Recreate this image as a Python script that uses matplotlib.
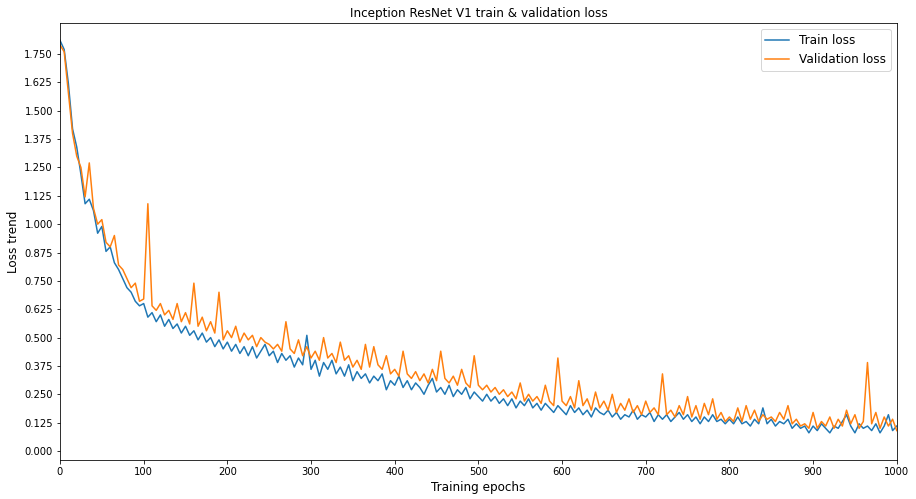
import numpy as np
import matplotlib
matplotlib.use("Agg")
import matplotlib.pyplot as plt

# loss values, one every 5 epochs
epochs = np.arange(0, 1001, 5)

train_loss = [
    1.81, 1.77, 1.62, 1.42, 1.34, 1.22, 1.09, 1.11, 1.06, 0.96,
    0.99, 0.88, 0.90, 0.83, 0.80, 0.76, 0.72, 0.70, 0.66, 0.64,
    0.65, 0.59, 0.61, 0.57, 0.60, 0.55, 0.58, 0.54, 0.56, 0.52,
    0.55, 0.51, 0.53, 0.49, 0.52, 0.48, 0.50, 0.46, 0.49, 0.45,
    0.48, 0.44, 0.47, 0.43, 0.46, 0.42, 0.46, 0.41, 0.44, 0.47,
    0.42, 0.44, 0.39, 0.43, 0.40, 0.42, 0.37, 0.41, 0.38, 0.51,
    0.36, 0.40, 0.33, 0.39, 0.36, 0.40, 0.34, 0.37, 0.33, 0.38,
    0.31, 0.35, 0.32, 0.34, 0.30, 0.33, 0.31, 0.34, 0.27, 0.31,
    0.29, 0.33, 0.28, 0.31, 0.27, 0.30, 0.28, 0.25, 0.29, 0.32,
    0.26, 0.28, 0.25, 0.29, 0.24, 0.27, 0.25, 0.28, 0.23, 0.26,
    0.24, 0.22, 0.25, 0.22, 0.24, 0.21, 0.23, 0.20, 0.23, 0.19,
    0.22, 0.20, 0.23, 0.19, 0.21, 0.18, 0.21, 0.19, 0.17, 0.20,
    0.18, 0.16, 0.20, 0.17, 0.19, 0.16, 0.18, 0.15, 0.19, 0.17,
    0.16, 0.18, 0.15, 0.17, 0.14, 0.16, 0.15, 0.18, 0.14, 0.16,
    0.15, 0.17, 0.13, 0.16, 0.14, 0.16, 0.13, 0.15, 0.17, 0.14,
    0.16, 0.13, 0.15, 0.12, 0.15, 0.13, 0.16, 0.13, 0.14, 0.12,
    0.14, 0.12, 0.15, 0.12, 0.13, 0.11, 0.14, 0.12, 0.19, 0.12,
    0.14, 0.11, 0.13, 0.12, 0.14, 0.10, 0.12, 0.10, 0.11, 0.08,
    0.11, 0.09, 0.12, 0.10, 0.08, 0.11, 0.10, 0.13, 0.16, 0.11,
    0.08, 0.12, 0.10, 0.11, 0.09, 0.12, 0.08, 0.11, 0.16, 0.09,
    0.11,
]

val_loss = [
    1.79, 1.76, 1.58, 1.40, 1.30, 1.25, 1.12, 1.27, 1.07, 1.00,
    1.02, 0.92, 0.90, 0.95, 0.82, 0.80, 0.76, 0.72, 0.74, 0.66,
    0.67, 1.09, 0.64, 0.62, 0.65, 0.60, 0.62, 0.58, 0.65, 0.57,
    0.61, 0.56, 0.74, 0.55, 0.59, 0.53, 0.57, 0.52, 0.70, 0.49,
    0.53, 0.50, 0.55, 0.48, 0.52, 0.49, 0.51, 0.46, 0.50, 0.48,
    0.47, 0.45, 0.47, 0.44, 0.57, 0.45, 0.43, 0.49, 0.42, 0.46,
    0.41, 0.44, 0.40, 0.50, 0.41, 0.43, 0.39, 0.48, 0.40, 0.42,
    0.37, 0.40, 0.36, 0.47, 0.37, 0.46, 0.38, 0.36, 0.42, 0.34,
    0.36, 0.33, 0.44, 0.34, 0.32, 0.35, 0.31, 0.34, 0.30, 0.36,
    0.31, 0.44, 0.32, 0.30, 0.33, 0.29, 0.36, 0.30, 0.28, 0.42,
    0.29, 0.27, 0.29, 0.26, 0.28, 0.25, 0.27, 0.24, 0.26, 0.23,
    0.30, 0.22, 0.25, 0.22, 0.24, 0.21, 0.29, 0.22, 0.20, 0.41,
    0.22, 0.20, 0.24, 0.19, 0.31, 0.20, 0.23, 0.18, 0.26, 0.19,
    0.22, 0.18, 0.25, 0.17, 0.21, 0.18, 0.23, 0.17, 0.20, 0.16,
    0.22, 0.17, 0.19, 0.16, 0.34, 0.16, 0.18, 0.15, 0.20, 0.16,
    0.24, 0.15, 0.20, 0.14, 0.21, 0.16, 0.23, 0.14, 0.17, 0.13,
    0.15, 0.13, 0.19, 0.13, 0.20, 0.14, 0.18, 0.13, 0.16, 0.14,
    0.15, 0.13, 0.17, 0.14, 0.20, 0.12, 0.14, 0.11, 0.12, 0.10,
    0.17, 0.10, 0.13, 0.11, 0.15, 0.10, 0.14, 0.11, 0.18, 0.12,
    0.16, 0.10, 0.13, 0.39, 0.12, 0.17, 0.10, 0.15, 0.11, 0.14,
    0.09,
]

yticks = np.arange(0, 1.8, 0.125)

fig = plt.figure(figsize=(916 / 72, 499 / 72), dpi=72)
ax = fig.add_axes([0.0655, 0.078, 0.9135, 0.876])

ax.plot(epochs, train_loss, color="#1f77b4", lw=1.5, label="Train loss")
ax.plot(epochs, val_loss, color="#ff7f0e", lw=1.5, label="Validation loss")

ax.set_xlim(0, 1000)
ax.set_ylim(-0.04, 1.887)
ax.set_xticks(np.arange(0, 1001, 100))
ax.set_yticks(yticks)
ax.set_yticklabels([f"{t:.3f}" for t in yticks])
ax.tick_params(labelsize=10)

ax.set_title("Inception ResNet V1 train & validation loss", fontsize=12)
ax.set_xlabel("Training epochs", fontsize=12)
ax.set_ylabel("Loss trend", fontsize=12)
ax.legend(loc="upper right", fontsize=12)

fig.savefig("out.png", dpi=72)
